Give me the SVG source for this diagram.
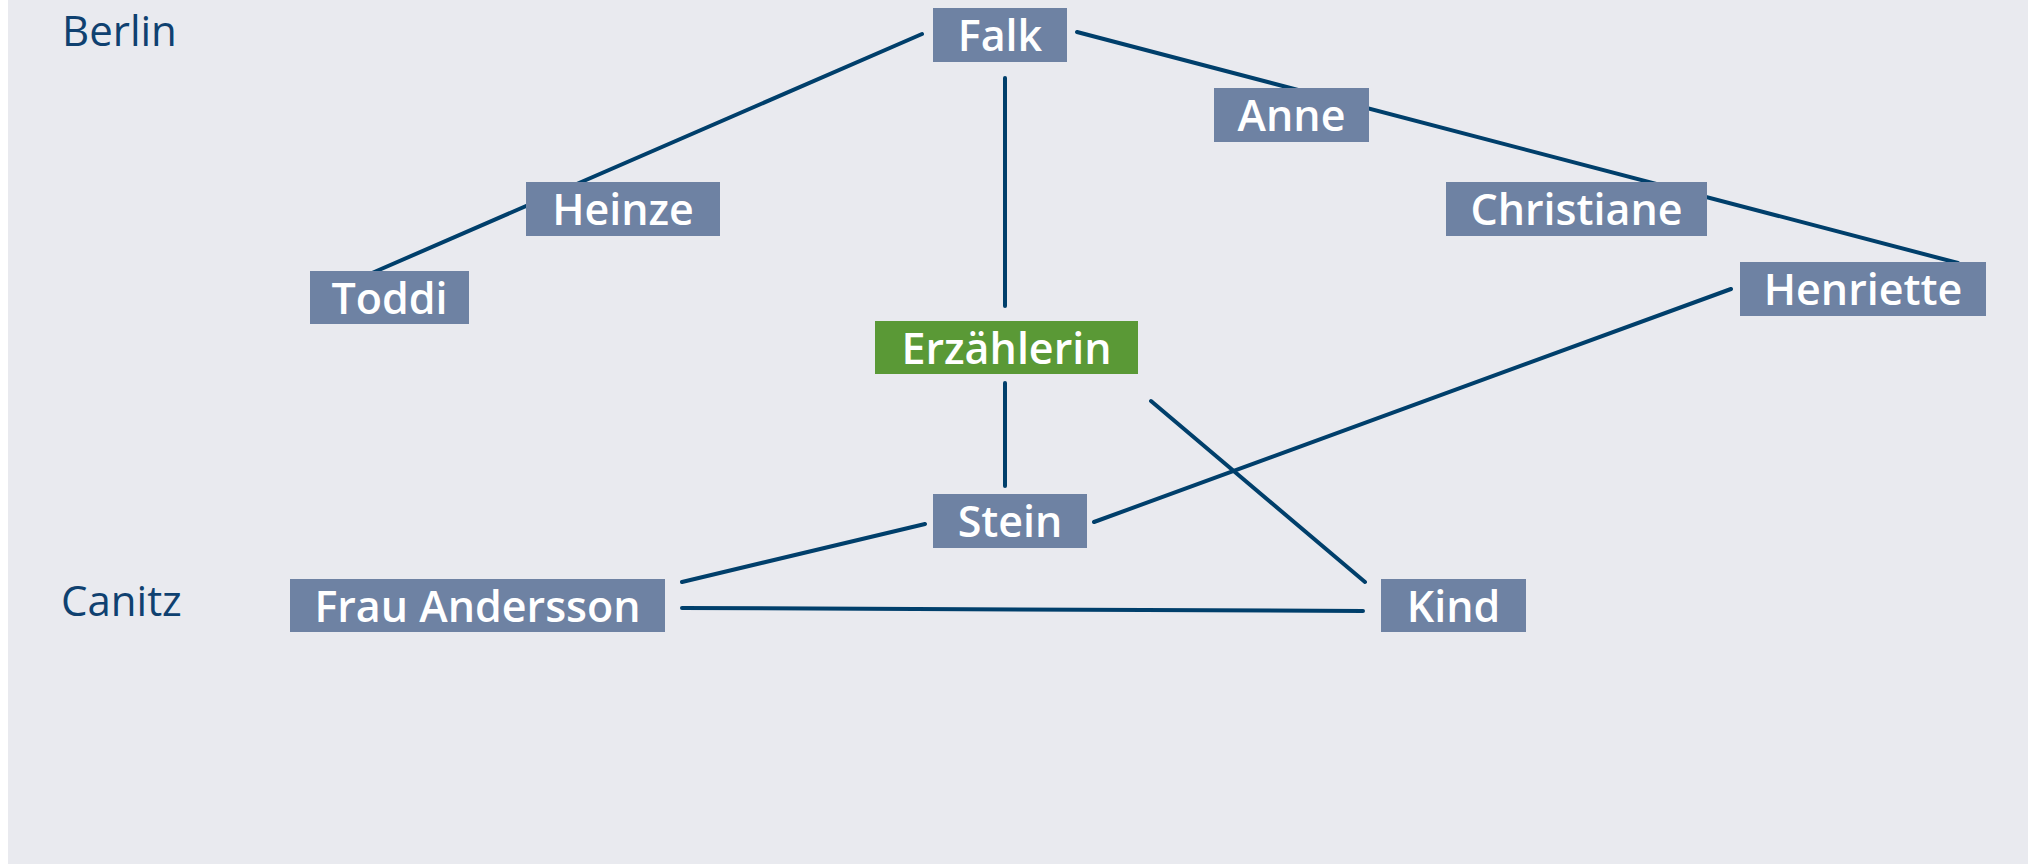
<svg xmlns="http://www.w3.org/2000/svg" width="2033" height="865" viewBox="0 0 2033 865">
<style>
.bg{fill:#e9eaef}
.node rect{fill:#6e82a3}
.node.main rect{fill:#5a9936}
.node text{font-family:"Open Sans","Noto Sans",sans-serif;font-weight:600;font-size:43px;fill:#ffffff;text-anchor:middle}
.place{font-family:"Open Sans","Noto Sans",sans-serif;font-size:42px;fill:#0f4170}
#edges line{stroke:#003f6b;stroke-width:4;stroke-linecap:round;fill:none}
</style>
<rect class="bg" x="8" y="0" width="2020" height="864"/>
<text class="place" x="62" y="46">Berlin</text>
<text class="place" x="61" y="616">Canitz</text>
<g id="edges">
<line x1="922" y1="34" x2="372" y2="273"/>
<line x1="1077" y1="32" x2="1958" y2="263"/>
<line x1="1005" y1="78" x2="1005" y2="306"/>
<line x1="1005" y1="383" x2="1005" y2="486"/>
<line x1="1151" y1="401" x2="1365" y2="582"/>
<line x1="1731" y1="289" x2="1094" y2="522"/>
<line x1="925" y1="524" x2="682" y2="582"/>
<line x1="682" y1="608" x2="1363" y2="611"/>
</g>
<g id="falk" class="node"><rect x="933" y="8" width="134" height="54"/><text x="1000" y="51">Falk</text></g>
<g id="anne" class="node"><rect x="1214" y="88" width="155" height="54"/><text x="1291.5" y="131">Anne</text></g>
<g id="heinze" class="node"><rect x="526" y="182" width="194" height="54"/><text x="623" y="225">Heinze</text></g>
<g id="christiane" class="node"><rect x="1446" y="182" width="261" height="54"/><text x="1576.5" y="225">Christiane</text></g>
<g id="toddi" class="node"><rect x="310" y="271" width="159" height="53"/><text x="389.5" y="314">Toddi</text></g>
<g id="henriette" class="node"><rect x="1740" y="262" width="246" height="54"/><text x="1863" y="305">Henriette</text></g>
<g id="erzaehlerin" class="node main"><rect x="875" y="321" width="263" height="53"/><text x="1006.5" y="364">Erzählerin</text></g>
<g id="stein" class="node"><rect x="933" y="494" width="154" height="54"/><text x="1010" y="537">Stein</text></g>
<g id="frau-andersson" class="node"><rect x="290" y="579" width="375" height="53"/><text x="477.5" y="622">Frau Andersson</text></g>
<g id="kind" class="node"><rect x="1381" y="579" width="145" height="53"/><text x="1453.5" y="622">Kind</text></g>
</svg>
